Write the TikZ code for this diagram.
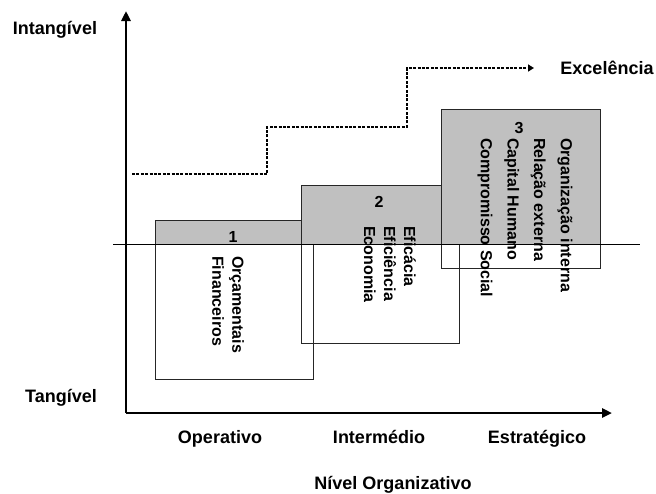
\documentclass[tikz,border=0pt]{standalone}
\usepackage{fontspec}
\setmainfont{Liberation Sans}
\usetikzlibrary{arrows.meta}
\definecolor{boxgray}{RGB}{192,192,192}
\begin{document}
\begin{tikzpicture}[x=1pt,y=-1pt,
  lbl/.style={font=\fontsize{18}{21}\selectfont\bfseries, inner sep=0pt, anchor=base},
  graybox/.style={fill=boxgray, draw=black!85, line width=0.8pt},
  outbox/.style={draw=black!85, line width=0.8pt},
  boxtxt/.style={font=\fontsize{16}{20}\selectfont\bfseries, rotate=-90, anchor=west, align=left, inner sep=0pt},
  num/.style={font=\fontsize{16}{20}\selectfont\bfseries, inner sep=0pt},
  axisline/.style={line width=2.6pt, -{Triangle[length=10pt,width=9pt]}},
  excel/.style={line width=2.8pt, dash pattern=on 3pt off 1.4pt, -{Triangle[length=6pt,width=7pt]}}
]
\useasboundingbox (0,0) rectangle (656,493);

% boxes
\draw[graybox] (155,220) rectangle (301,244);
\draw[graybox] (301,185) rectangle (442,244);
\draw[graybox] (441,109) rectangle (600,244);
\draw[outbox] (155,244) rectangle (313,379);
\draw[outbox] (301,244) rectangle (459,343);
\draw[outbox] (441,244) rectangle (600,268);

% horizontal reference line
\coordinate (hl) at (113,244);
\coordinate (hr) at (640,244);
\draw[line width=0.8pt] (hl) -- (hr);

% axes
\coordinate (o) at (126,413);
\coordinate (ytip) at (126,11);
\coordinate (xtip) at (612,413);
\draw[axisline] (o) -- (ytip);
\draw[axisline] (o) -- (xtip);

% excellence path
\coordinate (e0) at (132,174);
\coordinate (e1) at (267,174);
\coordinate (e2) at (267,127);
\coordinate (e3) at (407,127);
\coordinate (e4) at (407,68);
\coordinate (e5) at (534,68);
\draw[excel] (e0) -- (e1) -- (e2) -- (e3) -- (e4) -- (e5);

% box labels
\node[num] (n1) at (233,237) {1};
\node[num] (n2) at (379,202) {2};
\node[num] (n3) at (519,128) {3};
\node[boxtxt] (t1) at (228,256) {Orçamentais\\Financeiros};
\node[boxtxt] (t2) at (390,226) {Eficácia\\Eficiência\\Economia};
\node[boxtxt, font=\fontsize{16}{26.7}\selectfont\bfseries] (t3) at (525,138) {Organização interna\\Relação externa\\Capital Humano\\Compromisso Social};

% axis labels
\node[lbl] (intang) at (55,34) {Intangível};
\node[lbl] (excl) at (607,74.5) {Excelência};
\node[lbl] (tang) at (61,402.5) {Tangível};
\node[lbl] (oper) at (220,443.5) {Operativo};
\node[lbl] (inter) at (379,443.5) {Intermédio};
\node[lbl] (estr) at (537,443.5) {Estratégico};
\node[lbl] (nivel) at (393,489) {Nível Organizativo};
\end{tikzpicture}
\end{document}
